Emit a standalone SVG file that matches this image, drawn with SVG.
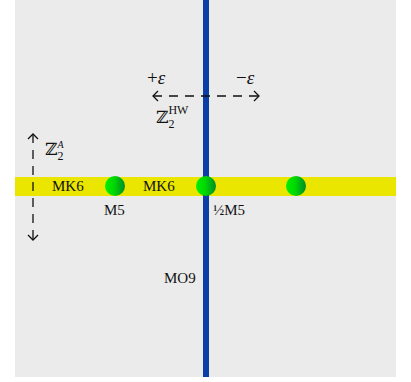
<svg xmlns="http://www.w3.org/2000/svg" width="411" height="382" viewBox="0 0 411 382">
<style>
text{font-family:"Liberation Serif","DejaVu Serif",serif;font-size:15px;fill:#111}
.big{font-size:19px}
.z{font-size:17px}
.dash{stroke:#111;stroke-width:1.3;stroke-dasharray:9,7;fill:none}
.head{stroke:#111;stroke-width:1.3;fill:none}
.brane{fill:url(#g)}
</style>
<defs>
<linearGradient id="g" x1="0" y1="0" x2="1" y2="0">
<stop offset="0" stop-color="#00f000"/>
<stop offset="0.45" stop-color="#00d800"/>
<stop offset="1" stop-color="#008a2a"/>
</linearGradient>
</defs>
<rect x="15" y="0" width="381" height="377" fill="#ebebeb"/>
<g id="mk6-band"><rect x="15" y="177" width="381" height="19" fill="#ebe600"/></g>
<g id="mo9"><rect x="203" y="0" width="6" height="377" fill="#0a3fa8"/><text x="164" y="283">MO9</text></g>
<g id="connectors">
<line class="dash" x1="153" y1="96" x2="259" y2="96"/>
<path class="head" d="M158,91 L153,96 L158,101"/>
<path class="head" d="M254,91 L259,96 L254,101"/>
<line class="dash" x1="33" y1="134" x2="33" y2="240"/>
<path class="head" d="M28,139 L33,134 L38,139"/>
<path class="head" d="M28,235 L33,240 L38,235"/>
</g>
<g id="labels">
<text class="big" x="147" y="84">+<tspan font-style="italic">ε</tspan></text>
<text class="big" x="236" y="84">−<tspan font-style="italic">ε</tspan></text>
<text class="z" x="156" y="123">ℤ<tspan font-size="12" dy="5">2</tspan><tspan font-size="12" dx="-6" dy="-14">HW</tspan></text>
<text class="z" x="45" y="155">ℤ<tspan font-size="12" dy="5">2</tspan><tspan font-size="10" font-style="italic" dx="-6" dy="-12">A</tspan></text>
<text x="52" y="191">MK6</text>
<text x="143" y="191">MK6</text>
</g>
<g id="m5-left"><circle class="brane" cx="115" cy="186" r="10"/><text x="104" y="215">M5</text></g>
<g id="m5-half"><circle class="brane" cx="206" cy="186" r="10"/><text x="213" y="215">½M5</text></g>
<g id="m5-right"><circle class="brane" cx="296" cy="186" r="10"/></g>
</svg>
